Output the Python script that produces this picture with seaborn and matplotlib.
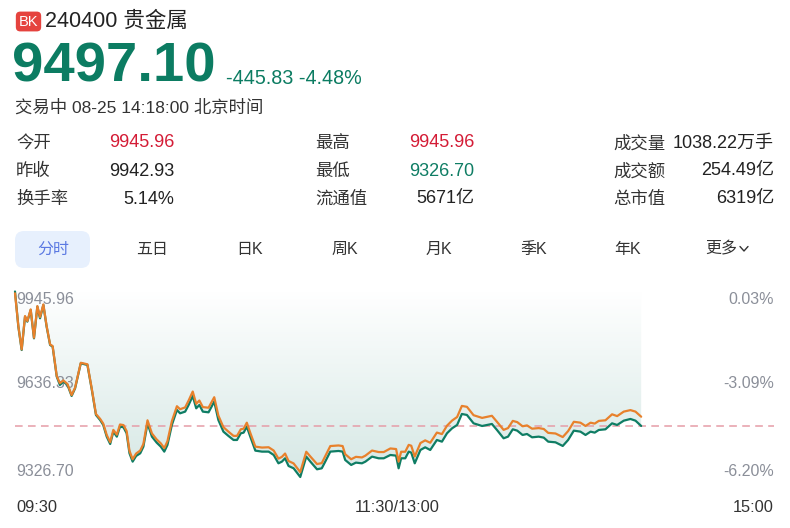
import numpy as np
import pandas as pd
import seaborn as sns
import matplotlib.pyplot as plt
from matplotlib.colors import LinearSegmentedColormap
from matplotlib.patches import FancyBboxPatch
from matplotlib.lines import Line2D
from matplotlib.transforms import IdentityTransform

# minutes since 09:30 (lunch break removed, 240 = 15:00)
minutes = [0, 1.06, 2.11, 3.17, 3.9, 4.96, 6.0, 7.07, 7.91, 8.97, 10.0, 11.1, 11.9,
           13.2, 14.2, 15.3, 16.6, 17.9, 19.0, 20.8, 22.9, 24.3, 25.6, 26.9, 27.9,
           29.0, 30.1, 31.1, 32.2, 33.2, 34.3, 35.3, 36.2, 37.2, 38.3, 39.6, 40.6,
           41.9, 43.3, 44.8, 46.1, 47.2, 48.2, 49.6, 51.2, 52.2, 53.8, 54.9, 56.2,
           57.3, 58.3, 59.4, 61.2, 63.0, 64.3, 65.9, 67.5, 69.1, 70.2, 71.4, 72.3,
           73.3, 74.4, 76.0, 78.1, 80.2, 81.8, 83.3, 84.4, 85.4, 86.5, 88.1, 90.2,
           92.1, 93.4, 95.5, 97.0, 98.1, 99.7, 102.3, 103.6, 104.4, 106.3, 107.8,
           109.7, 110.8, 112.9, 115.0, 116.6, 118.7, 120.5, 121.3, 122.1, 123.4,
           124.5, 125.3, 126.4, 128.2, 129.7, 131.3, 133.4, 135.0, 136.6, 138.2,
           139.8, 141.3, 142.9, 145.0, 147.7, 150.8, 152.4, 154.5, 155.9, 157.4,
           158.8, 160.5, 161.9, 163.5, 165.6, 167.2, 168.6, 170.9, 173.2, 174.9,
           176.7, 178.8, 180.4, 182.0, 183.3, 184.6, 186.7, 188.8, 190.4, 192.5,
           194.6, 196.2, 198.0]

price = [9945.96, 9828.6, 9750.7, 9862.0, 9845.3, 9884.2, 9789.6, 9895.3, 9856.4,
         9900.9, 9828.6, 9767.4, 9761.8, 9661.7, 9633.9, 9645.0, 9633.9, 9597.2,
         9622.7, 9706.2, 9700.6, 9617.2, 9533.7, 9517.1, 9500.4, 9461.4, 9436.9,
         9478.1, 9461.4, 9494.8, 9492.6, 9472.6, 9405.8, 9378.0, 9396.9, 9405.8,
         9428.0, 9505.9, 9461.4, 9441.4, 9428.0, 9411.4, 9433.6, 9500.4, 9550.4,
         9539.3, 9544.9, 9567.1, 9597.2, 9556.0, 9567.1, 9544.9, 9542.6, 9578.3,
         9517.1, 9478.1, 9463.7, 9450.3, 9450.3, 9472.6, 9474.8, 9494.8, 9461.4,
         9414.7, 9411.4, 9411.4, 9400.2, 9372.4, 9378.0, 9389.1, 9363.5, 9355.7,
         9326.70, 9394.7, 9378.0, 9352.4, 9355.7, 9378.0, 9411.4, 9413.6, 9411.4,
         9383.6, 9366.9, 9374.7, 9372.4, 9378.0, 9394.7, 9389.1, 9389.1, 9400.2,
         9398.0, 9355.7, 9389.1, 9389.1, 9411.4, 9408.0, 9372.4, 9416.9, 9425.8,
         9416.9, 9450.3, 9444.7, 9472.6, 9489.2, 9500.4, 9537.1, 9533.8, 9505.9,
         9497.0, 9503.7, 9483.7, 9455.9, 9461.4, 9485.9, 9481.5, 9467.0, 9470.3,
         9459.2, 9461.4, 9458.1, 9444.7, 9442.5, 9430.3, 9450.3, 9481.5, 9478.1,
         9467.0, 9478.1, 9474.8, 9483.7, 9485.9, 9505.9, 9500.4, 9514.8, 9520.4,
         9514.8, 9497.10]

avg_price = [9940.0, 9830.6, 9752.7, 9864.0, 9847.3, 9886.2, 9791.6, 9897.3, 9860.4,
             9902.9, 9830.6, 9769.4, 9763.8, 9663.7, 9640.0, 9649.0, 9637.0, 9600.0,
             9625.0, 9708.0, 9703.0, 9620.0, 9537.0, 9521.0, 9505.0, 9467.0, 9443.0,
             9484.0, 9468.0, 9502.0, 9500.0, 9480.0, 9414.0, 9386.0, 9405.0, 9415.0,
             9437.0, 9516.0, 9472.0, 9452.0, 9439.0, 9423.0, 9446.0, 9513.0, 9563.0,
             9553.0, 9559.0, 9582.0, 9612.0, 9571.0, 9582.0, 9560.0, 9558.0, 9593.0,
             9532.0, 9493.0, 9478.0, 9464.0, 9464.0, 9486.0, 9488.0, 9508.0, 9474.0,
             9428.0, 9425.0, 9426.0, 9415.0, 9388.0, 9394.0, 9405.0, 9380.0, 9372.0,
             9343.0, 9411.0, 9395.0, 9370.0, 9373.0, 9396.0, 9430.0, 9432.0, 9430.0,
             9403.0, 9386.0, 9394.0, 9392.0, 9398.0, 9415.0, 9410.0, 9410.0, 9422.0,
             9420.0, 9378.0, 9411.0, 9411.0, 9434.0, 9431.0, 9395.0, 9440.0, 9449.0,
             9441.0, 9475.0, 9470.0, 9498.0, 9515.0, 9527.0, 9564.0, 9561.0, 9533.0,
             9524.0, 9531.0, 9511.0, 9484.0, 9490.0, 9514.0, 9510.0, 9496.0, 9499.0,
             9488.0, 9490.0, 9487.0, 9474.0, 9472.0, 9460.0, 9480.0, 9511.0, 9508.0,
             9497.0, 9508.0, 9505.0, 9514.0, 9516.0, 9536.0, 9530.0, 9545.0, 9550.0,
             9545.0, 9528.0]

last_price = 9497.10
change_text = '-445.83 -4.48%'
high_price = 9945.96
low_price = 9326.70
mid_price = 9636.33
pct_ticks = ['0.03%', '-3.09%', '-6.20%']
time_ticks = ['09:30', '11:30/13:00', '15:00']

stat_labels = [['今开', '昨收', '换手率'],
               ['最高', '最低', '流通值'],
               ['成交量', '成交额', '总市值']]
stat_values = [['9945.96', '9942.93', '5.14%'],
               ['9945.96', '9326.70', '5671亿'],
               ['1038.22万手', '254.49亿', '6319亿']]
RED, GREEN, DARK = '#d41c36', '#0f7d64', '#222222'
stat_colors = [[RED, DARK, DARK],
               [RED, GREEN, DARK],
               [DARK, DARK, DARK]]

tabs = ['分时', '五日', '日K', '周K', '月K', '季K', '年K', '更多']

sns.set_style('white')
plt.rcParams['font.family'] = ['Liberation Sans', 'Noto Sans CJK SC', 'DejaVu Sans']

W, H = 790, 528
fig = plt.figure(figsize=(W / 100, H / 100), dpi=100)
fig.patch.set_facecolor('white')


def put(x, y, s, **kw):
    # place text using pixel coords measured from the top-left corner
    return fig.text(x / W, 1 - y / H, s, **kw)


# ---- header ----
put(28.5, 21.5, 'BK', color='white', fontsize=10.5, ha='center', va='center',
    bbox=dict(boxstyle='round,pad=0.2,rounding_size=0.3', fc='#e5433e', ec='none'))
put(45, 21.5, '240400 贵金属', color=DARK, fontsize=15.5, ha='left', va='center')
put(12, 68, '9497.10', color='#0c7c62', fontsize=40.5, fontweight='bold',
    ha='left', va='center')
put(226, 79, change_text, color='#0c7c62', fontsize=14.2, ha='left', va='center')
put(15, 107, '交易中 08-25 14:18:00 北京时间', color='#333333', fontsize=12.5,
    ha='left', va='center')

label_x = [16, 315, 613]
value_x = [174, 474, 774]
row_y = [143, 171, 199]
for c in range(3):
    for r in range(3):
        put(label_x[c], row_y[r], stat_labels[c][r], color='#333333', fontsize=12.5,
            ha='left', va='center')
        put(value_x[c], row_y[r], stat_values[c][r], color=stat_colors[c][r],
            fontsize=13, ha='right', va='center')

# ---- tabs ----
fig.patches.append(FancyBboxPatch((15, H - 268), 75, 37,
                                  boxstyle='round,pad=0,rounding_size=9',
                                  fc='#e7f0fd', ec='none', transform=IdentityTransform(),
                                  figure=fig))
tab_x = [53, 152, 250, 345, 439, 534, 628, 721]
for i, name in enumerate(tabs):
    put(tab_x[i], 249, name, color='#5b79e2' if i == 0 else '#333333',
        fontsize=11.5, ha='center', va='center')
fig.add_artist(Line2D([740 / W, 744 / W, 748 / W],
                      [1 - 246.5 / H, 1 - 251 / H, 1 - 246.5 / H],
                      color='#333333', lw=1.0))

# ---- chart ----
ax = fig.add_axes([15 / W, 1 - 477 / H, (774 - 15) / W, (477 - 291.5) / H])
ax.patch.set_alpha(0)
df = pd.DataFrame({'t': minutes, 'price': price, 'avg': avg_price})

poly = ax.fill_between(df['t'], df['price'], high_price, color='none', lw=0)
grad = np.linspace(1, 0, 256).reshape(-1, 1)
cmap = LinearSegmentedColormap.from_list('fade', ['#ffffff', '#d6e8e5'])
im = ax.imshow(grad, extent=[0, 240, low_price, high_price], origin='lower',
               aspect='auto', cmap=cmap, vmin=0, vmax=1, zorder=0)
im.set_clip_path(poly.get_paths()[0], transform=ax.transData)

sns.lineplot(data=df, x='t', y='price', color='#0f7d64', lw=1.6, ax=ax,
             zorder=3, clip_on=False)
sns.lineplot(data=df, x='t', y='avg', color='#e8812c', lw=1.6, ax=ax,
             zorder=4, clip_on=False)
ax.axhline(last_price, color='#e69ca7', lw=1.1, ls=(0, (5, 3.5)), zorder=2)

ax.set_xlim(0, 240)
ax.set_ylim(low_price, high_price)
ax.axis('off')

# price labels: above the fill, under the lines
left_ticks = [f'{high_price:.2f}', f'{mid_price:.2f}', f'{low_price:.2f}']
tick_y = [299, 384, 472]
for lab, pct, y in zip(left_ticks, pct_ticks, tick_y):
    ax.text(16 / W, 1 - y / H, lab, transform=fig.transFigure, color='#8b8f99',
            fontsize=11.5, ha='left', va='center', zorder=1, clip_on=False)
    put(774, y, pct, color='#8b8f99', fontsize=11.5, ha='right', va='center')

put(16, 507, time_ticks[0], color='#333333', fontsize=11.8, ha='left', va='center')
put(397, 507, time_ticks[1], color='#333333', fontsize=11.8, ha='center', va='center')
put(774, 507, time_ticks[2], color='#333333', fontsize=11.8, ha='right', va='center')

fig.savefig('out.png', dpi=100, facecolor='white')
